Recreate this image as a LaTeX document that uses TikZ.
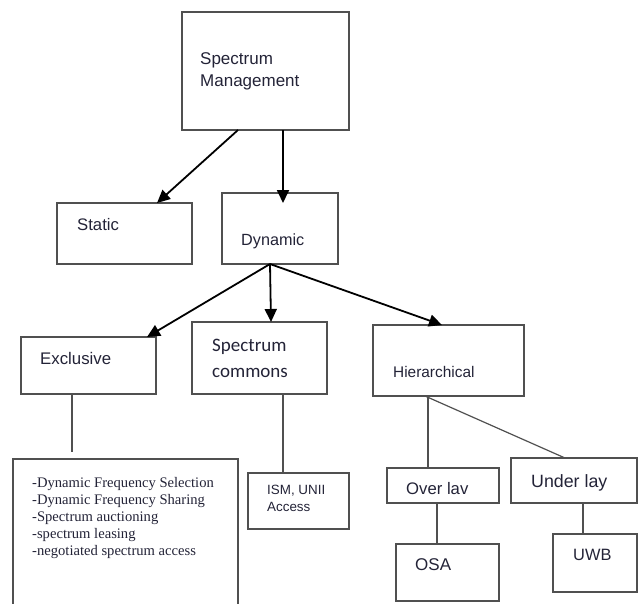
\documentclass[tikz,border=0pt]{standalone}
\usepackage{fontspec}
\setmainfont{Liberation Sans}
\newfontfamily\calfont{Carlito}
\newfontfamily\serfont{Liberation Serif}
\usetikzlibrary{arrows.meta}
\definecolor{boxgray}{RGB}{80,80,80}
\definecolor{txtcol}{RGB}{35,35,55}
\begin{document}
\begin{tikzpicture}[x=1pt,y=-1pt,
  box/.style={draw=boxgray,line width=1.3pt,inner sep=0pt,outer sep=0pt,anchor=north west},
  lbl/.style={anchor=base west,inner sep=0pt,text=txtcol,align=left},
  arr/.style={line width=1.8pt,-{Triangle[length=13pt,width=12pt]}},
  link/.style={draw=boxgray,line width=1.2pt}]
\useasboundingbox (0,0) rectangle (642,603);
\clip (0,0) rectangle (642,603);
\node[box,minimum width=167pt,minimum height=118pt] (mgmt) at (182,12) {};
\node[box,minimum width=135pt,minimum height=61pt] (static) at (57,203) {};
\node[box,minimum width=116pt,minimum height=71pt] (dyn) at (222,193) {};
\node[box,minimum width=135pt,minimum height=57pt] (excl) at (21,337) {};
\node[box,minimum width=135pt,minimum height=72pt] (comm) at (192,322) {};
\node[box,minimum width=151pt,minimum height=71pt] (hier) at (373,325) {};
\node[box,minimum width=225pt,minimum height=160pt] (list) at (13,459) {};
\node[box,minimum width=101pt,minimum height=56pt] (ism) at (248,473) {};
\node[box,minimum width=112pt,minimum height=35pt] (over) at (387,468) {};
\node[box,minimum width=126pt,minimum height=45pt] (under) at (511,458) {};
\node[box,minimum width=103pt,minimum height=57pt] (osa) at (396,544) {};
\node[box,minimum width=84pt,minimum height=58pt] (uwb) at (553,534) {};
\node[lbl,font=\fontsize{17}{22}\selectfont] (mgmtlbl) at (200,86) {Spectrum\\Management};
\node[lbl,font=\fontsize{16.7}{20}\selectfont] (staticlbl) at (77,230) {Static};
\node[lbl,font=\fontsize{16.2}{20}\selectfont] (dynlbl) at (241,245) {Dynamic};
\node[lbl,font=\fontsize{16.8}{20}\selectfont] (excllbl) at (40,364) {Exclusive};
\node[lbl,font=\calfont\fontsize{19}{26}\selectfont] (commlbl) at (212,377) {Spectrum\\commons};
\node[lbl,font=\fontsize{15.4}{20}\selectfont] (hierlbl) at (393,377) {Hierarchical};
\node[lbl,font=\serfont\fontsize{14.6}{17}\selectfont] (listlbl) at (32,555)
  {-Dynamic Frequency Selection\\-Dynamic Frequency Sharing\\-Spectrum auctioning\\-spectrum leasing\\-negotiated spectrum access};
\node[lbl,font=\fontsize{13.4}{17}\selectfont] (ismlbl) at (267,511) {ISM, UNII\\Access};
\node[lbl,font=\fontsize{16.7}{20}\selectfont] (overlbl) at (406,494) {Over lav};
\node[lbl,font=\fontsize{17.8}{20}\selectfont] (underlbl) at (531,487) {Under lay};
\node[lbl,font=\fontsize{17}{20}\selectfont] (osalbl) at (415,570) {OSA};
\node[lbl,font=\fontsize{16.4}{20}\selectfont] (uwblbl) at (573,560) {UWB};
\draw[arr] ([xshift=-27.5pt]mgmt.south) -- ([xshift=-35pt]static.north east);
\draw[arr,shorten >=-10pt] ([xshift=17.5pt]mgmt.south) -- ([xshift=17.5pt]mgmt.south |- dyn.north);
\draw[arr] ([xshift=-10pt]dyn.south) -- ([xshift=-9pt]excl.north east);
\draw[arr] ([xshift=-10pt]dyn.south) -- ([xshift=-9pt]dyn.south |- comm.north);
\draw[arr] ([xshift=-10pt]dyn.south) -- ([xshift=-6.5pt]hier.north);
\coordinate (exclend) at (72,452);
\draw[link] (exclend |- excl.south) -- (exclend);
\draw[link] ([xshift=23.5pt]comm.south) -- ([xshift=23.5pt]comm.south |- ism.north);
\draw[link] ([xshift=-20.5pt]hier.south) -- ([xshift=-20.5pt]hier.south |- over.north);
\draw[link] ([xshift=-23.5pt]hier.south) -- ([xshift=-9pt]under.north);
\draw[link] ([xshift=-6pt]over.south) -- ([xshift=-6pt]over.south |- osa.north);
\draw[link] ([xshift=9pt]under.south) -- ([xshift=9pt]under.south |- uwb.north);
\end{tikzpicture}
\end{document}
